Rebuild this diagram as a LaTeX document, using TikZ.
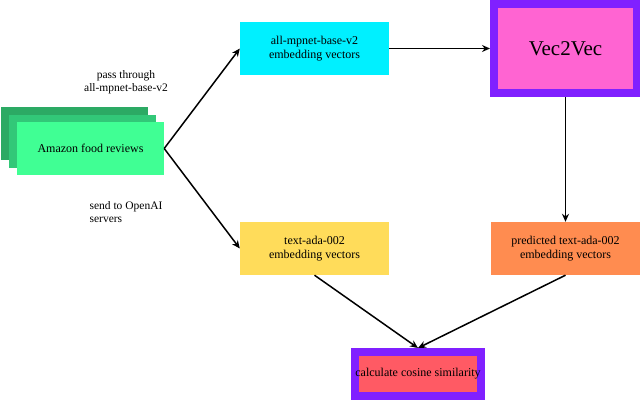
\documentclass[tikz,border=0pt]{standalone}
\usepackage{fontspec}
\setmainfont{Liberation Serif}
\usetikzlibrary{arrows.meta}
\definecolor{gA}{RGB}{44,170,100}
\definecolor{gB}{RGB}{50,200,120}
\definecolor{gC}{RGB}{64,255,148}
\definecolor{cyanbox}{RGB}{0,240,255}
\definecolor{purp}{RGB}{128,32,255}
\definecolor{mag}{RGB}{255,100,210}
\definecolor{yel}{RGB}{255,220,90}
\definecolor{ora}{RGB}{255,140,80}
\definecolor{redbox}{RGB}{255,90,100}
\tikzset{
  box/.style={rectangle, minimum width=149pt, minimum height=53pt, align=center, inner sep=0pt, font=\rmfamily\fontsize{12}{14}\selectfont},
  lbl/.style={align=left, font=\rmfamily\fontsize{11.5}{13.5}\selectfont},
  arr/.style={line width=1.5pt, -{Stealth[length=8pt,width=7pt]}}
}
\begin{document}
\begin{tikzpicture}[x=1pt,y=-1pt]
\useasboundingbox (0,0) rectangle (640,402);
\fill[gA] (1,107) rectangle (148,160);
\fill[gB] (9,115) rectangle (156,168);
\node[box, fill=gC, minimum width=147pt] (amz) at (90.5,148.5) {Amazon food reviews};
\node[box, fill=cyanbox] (mp) at (314.5,48.5) {all-mpnet-base-v2\\embedding vectors};
\node[box, fill=mag, draw=purp, line width=8pt, minimum width=143pt, minimum height=89pt, font=\rmfamily\fontsize{21}{24}\selectfont] (v2v) at (565.5,48.5) {Vec2Vec};
\node[box, fill=yel] (ada) at (314.5,248.5) {text-ada-002\\embedding vectors};
\node[box, fill=ora] (pred) at (565.5,248.5) {predicted text-ada-002\\embedding vectors};
\node[box, fill=redbox, draw=purp, line width=8pt, minimum width=124pt, minimum height=44pt] (cos) at (418,374) {calculate cosine similarity};
\node[lbl, align=center] (l1) at (126,82) {pass through\\all-mpnet-base-v2};
\node[lbl] (l2) at (126,212) {send to OpenAI\\servers};
\draw[arr] (amz.east) -- (mp.west);
\draw[arr] (amz.east) -- (ada.west);
\draw[arr] (mp.east) -- (v2v.west);
\draw[arr] (v2v.south) -- (pred.north);
\draw[arr] (ada.south) -- (cos.north);
\draw[arr] (pred.south) -- (cos.north);
\end{tikzpicture}
\end{document}
